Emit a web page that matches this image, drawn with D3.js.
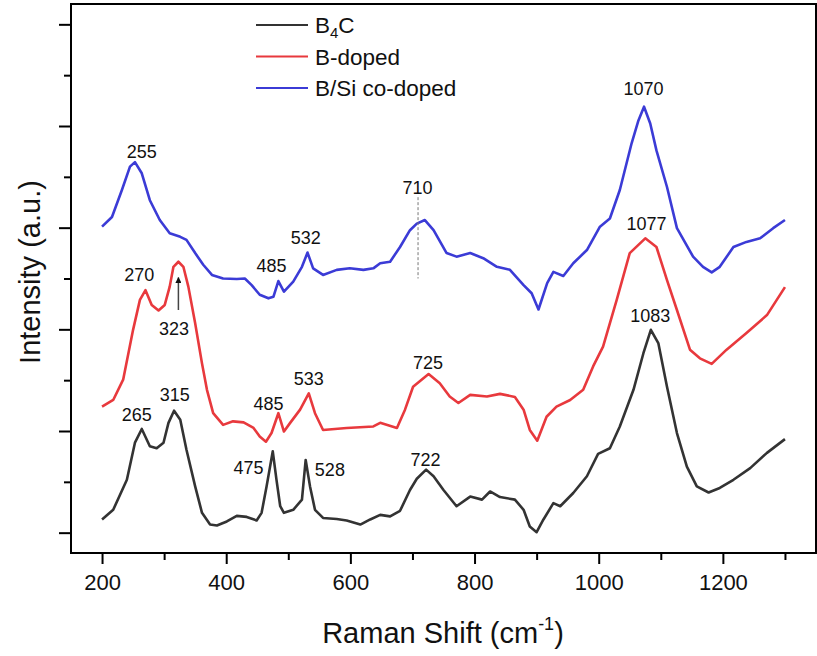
<!DOCTYPE html>
<html>
<head>
<meta charset="utf-8">
<script src="https://cdn.jsdelivr.net/npm/d3@7"></script>
<style>
  body { margin: 0; background: #fff; }
  text { font-family: "Liberation Sans", Arial, sans-serif; }
</style>
</head>
<body>
<div id="chart"></div>
<script>
// Raman spectra: [wavenumber cm-1, intensity a.u.]
var b4c = [
  [200,0.26],[218,0.45],[240,1.04],[253,1.77],[264,2.04],[277,1.70],[288,1.66],[299,1.77],
  [307,2.16],[316,2.40],[326,2.22],[336,1.63],[350,0.91],[361,0.39],[374,0.16],[385,0.14],
  [401,0.22],[417,0.33],[433,0.31],[449,0.24],[457,0.39],[465,0.91],[475,1.60],[481,1.04],
  [487,0.52],[493,0.39],[508,0.45],[522,0.65],[528,1.43],[535,0.91],[543,0.45],[556,0.29],
  [578,0.27],[594,0.24],[616,0.16],[632,0.26],[648,0.35],[664,0.32],[680,0.43],[696,0.84],
  [707,1.06],[722,1.24],[734,1.11],[750,0.84],[771,0.52],[793,0.71],[812,0.65],[825,0.81],
  [841,0.70],[865,0.65],[879,0.45],[889,0.12],[900,0.01],[911,0.26],[927,0.58],[938,0.52],
  [959,0.78],[981,1.11],[999,1.55],[1018,1.66],[1034,2.09],[1056,2.81],[1072,3.53],[1084,3.99],
  [1096,3.73],[1110,2.87],[1126,1.96],[1142,1.30],[1158,0.91],[1177,0.79],[1195,0.88],
  [1217,1.04],[1244,1.27],[1271,1.57],[1300,1.84]
];
var bDoped = [
  [200,2.48],[218,2.61],[234,3.01],[250,3.99],[261,4.58],[270,4.77],[280,4.48],[291,4.37],
  [301,4.48],[309,4.84],[315,5.23],[323,5.33],[331,5.23],[339,4.84],[350,4.12],[361,3.33],
  [369,2.81],[379,2.35],[395,2.12],[411,2.19],[428,2.17],[444,2.06],[454,1.89],[464,1.79],
  [473,1.96],[484,2.35],[493,1.99],[503,2.16],[519,2.42],[533,2.74],[543,2.35],[556,2.02],
  [594,2.06],[637,2.09],[648,2.16],[675,2.06],[688,2.42],[701,2.87],[726,3.12],[744,2.94],
  [760,2.68],[774,2.55],[793,2.71],[820,2.68],[841,2.73],[865,2.67],[879,2.42],[889,2.02],
  [901,1.81],[916,2.28],[932,2.48],[954,2.61],[975,2.81],[991,3.27],[1007,3.66],[1029,4.58],
  [1050,5.50],[1075,5.79],[1093,5.62],[1110,4.97],[1126,4.38],[1147,3.60],[1163,3.43],
  [1182,3.32],[1206,3.60],[1238,3.93],[1271,4.28],[1300,4.83]
];
var bSiCodoped = [
  [200,6.02],[216,6.21],[232,6.74],[245,7.20],[253,7.29],[264,7.07],[277,6.54],[293,6.15],
  [309,5.89],[326,5.82],[336,5.76],[350,5.50],[363,5.27],[377,5.07],[395,5.00],[417,4.99],
  [430,5.00],[441,4.87],[454,4.68],[468,4.61],[476,4.64],[484,4.95],[493,4.74],[508,4.94],
  [522,5.23],[531,5.51],[540,5.20],[556,5.07],[578,5.17],[599,5.20],[621,5.17],[637,5.20],
  [648,5.30],[664,5.33],[680,5.62],[696,5.95],[707,6.08],[720,6.15],[734,5.95],[755,5.50],
  [771,5.43],[793,5.50],[814,5.40],[836,5.23],[857,5.17],[879,4.87],[892,4.71],[903,4.39],
  [917,4.91],[927,5.13],[943,5.05],[959,5.30],[981,5.56],[1002,6.02],[1018,6.18],[1034,6.74],
  [1053,7.66],[1064,8.11],[1073,8.38],[1083,8.05],[1093,7.52],[1110,6.80],[1126,5.99],
  [1152,5.43],[1168,5.23],[1182,5.12],[1195,5.23],[1217,5.62],[1238,5.72],[1260,5.79],
  [1281,5.99],[1300,6.15]
];
var seriesNames = ["B4C", "B-doped", "B/Si co-doped"];
var xTicks = [200, 400, 600, 800, 1000, 1200];
var xMinorTicks = [300, 500, 700, 900, 1100, 1300];
var yTicks = [0, 2, 4, 6, 8, 10];
var yMinorTicks = [1, 3, 5, 7, 9];
// peak labels: text, wavenumber, intensity where the label sits
var peakLabels = [
  ["255", 264, 7.49], ["485", 473, 5.25], ["532", 528, 5.81], ["710", 708, 6.79], ["1070", 1072, 8.74],
  ["270", 260, 5.07], ["323", 316, 4.02], ["485", 468, 2.55], ["533", 533, 3.03], ["725", 725, 3.35], ["1077", 1077, 6.08],
  ["265", 256, 2.32], ["315", 317, 2.71], ["475", 436, 1.29], ["528", 567, 1.24], ["722", 721, 1.43], ["1083", 1083, 4.28]
];

var W = 817, H = 656;
var colors = ["#333333", "#e8393d", "#3b3bd6"];

var svg = d3.select("#chart").append("svg")
  .attr("width", W).attr("height", H);

var x = d3.scaleLinear().domain([150, 1350]).range([71, 816]);
var y = d3.scaleLinear().domain([-0.4, 10.4]).range([553, 4]);

// axes
svg.append("g")
  .attr("transform", "translate(0,553)")
  .call(d3.axisBottom(x).tickValues(xMinorTicks).tickSize(7).tickFormat(""))
  .call(function(g) { g.select(".domain").remove(); });
var xa = svg.append("g")
  .attr("transform", "translate(0,553)")
  .call(d3.axisBottom(x).tickValues(xTicks).tickSize(11).tickPadding(10).tickFormat(d3.format("d")));
xa.select(".domain").remove();
xa.selectAll("text").attr("font-size", 22).attr("fill", "#111")
  .attr("font-family", "Liberation Sans, Arial, sans-serif");

svg.append("g")
  .attr("transform", "translate(71,0)")
  .call(d3.axisLeft(y).tickValues(yMinorTicks).tickSize(7).tickFormat(""))
  .call(function(g) { g.select(".domain").remove(); });
svg.append("g")
  .attr("transform", "translate(71,0)")
  .call(d3.axisLeft(y).tickValues(yTicks).tickSize(12).tickFormat(""))
  .call(function(g) { g.select(".domain").remove(); });

svg.selectAll(".tick line").attr("stroke", "#000").attr("stroke-width", 2);

// frame
svg.append("rect")
  .attr("x", 71).attr("y", 4).attr("width", 745).attr("height", 549)
  .attr("fill", "none").attr("stroke", "#000").attr("stroke-width", 2);

// spectra
var line = d3.line()
  .x(function(d) { return x(d[0]); })
  .y(function(d) { return y(d[1]); });

[b4c, bDoped, bSiCodoped].forEach(function(s, i) {
  svg.append("path")
    .datum(s)
    .attr("d", line)
    .attr("fill", "none")
    .attr("stroke", colors[i])
    .attr("stroke-width", 2.6)
    .attr("stroke-linejoin", "round");
});

// dashed marker at 710 and arrow to 323
svg.append("line")
  .attr("x1", x(709)).attr("x2", x(709))
  .attr("y1", y(6.6)).attr("y2", y(5.0))
  .attr("stroke", "#777").attr("stroke-width", 1)
  .attr("stroke-dasharray", "3,2");

svg.append("defs").append("marker")
  .attr("id", "arrow").attr("viewBox", "0 0 10 10")
  .attr("refX", 9).attr("refY", 5)
  .attr("markerWidth", 4).attr("markerHeight", 4)
  .attr("orient", "auto")
  .append("path").attr("d", "M0,0L10,5L0,10z").attr("fill", "#111");

svg.append("line")
  .attr("x1", x(323)).attr("x2", x(323))
  .attr("y1", y(4.38)).attr("y2", y(5.02))
  .attr("stroke", "#444").attr("stroke-width", 1.5)
  .attr("marker-end", "url(#arrow)");

// peak labels
svg.selectAll(".peak")
  .data(peakLabels)
  .enter().append("text")
  .attr("class", "peak")
  .attr("x", function(d) { return x(d[1]); })
  .attr("y", function(d) { return y(d[2]); })
  .attr("dy", "0.36em")
  .attr("text-anchor", "middle")
  .attr("font-size", 18)
  .attr("fill", "#111")
  .text(function(d) { return d[0]; });

// legend
var legend = svg.append("g");
seriesNames.forEach(function(name, i) {
  var ly = 25 + i * 31.5;
  legend.append("line")
    .attr("x1", 256).attr("x2", 308)
    .attr("y1", ly).attr("y2", ly)
    .attr("stroke", colors[i]).attr("stroke-width", 2);
  var t = legend.append("text")
    .attr("x", 315).attr("y", ly)
    .attr("dy", "0.36em")
    .attr("font-size", 22.5)
    .attr("fill", "#111");
  if (name === "B4C") {
    t.append("tspan").text("B");
    t.append("tspan").attr("font-size", 15).attr("dy", "0.3em").text("4");
    t.append("tspan").attr("dy", "-0.2em").text("C");
  } else {
    t.text(name);
  }
});

// axis titles
var xt = svg.append("text")
  .attr("x", 443).attr("y", 643)
  .attr("text-anchor", "middle")
  .attr("font-size", 29)
  .attr("fill", "#111");
xt.append("tspan").text("Raman Shift (cm");
xt.append("tspan").attr("font-size", 18).attr("dy", "-0.7em").text("-1");
xt.append("tspan").attr("dy", "0.45em").text(")");

svg.append("text")
  .attr("transform", "translate(40,272) rotate(-90)")
  .attr("text-anchor", "middle")
  .attr("font-size", 29)
  .attr("fill", "#111")
  .text("Intensity (a.u.)");
</script>
</body>
</html>
